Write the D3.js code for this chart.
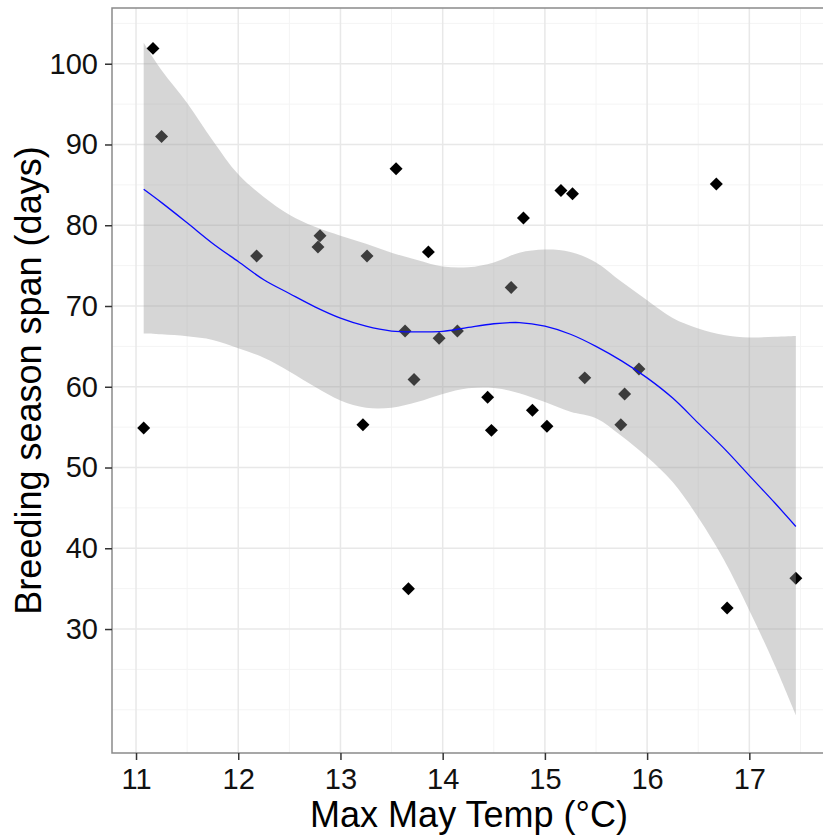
<!DOCTYPE html>
<html>
<head>
<meta charset="utf-8">
<script src="https://cdn.jsdelivr.net/npm/d3@7"></script>
<style>
  html, body { margin: 0; padding: 0; background: #ffffff; }
  svg { display: block; }
  text { font-family: "Liberation Sans", Arial, sans-serif; }
</style>
</head>
<body>
<svg id="chart" width="823" height="835"></svg>
<script>
// Observations: maximum May temperature (°C) vs breeding season span (days)
const maxMayTemp = [11.075, 11.166, 11.25, 12.18, 12.78, 12.80, 13.22, 13.26, 13.544, 13.632,
                    13.665, 13.72, 13.86, 13.965, 14.144, 14.44, 14.477, 14.67, 14.79, 14.878,
                    15.02, 15.157, 15.27, 15.39, 15.743, 15.78, 15.92, 16.677, 16.783, 17.455];
const seasonSpan = [54.9, 101.9, 91.0, 76.2, 77.3, 78.7, 55.3, 76.2, 87.0, 66.9,
                    35.0, 60.9, 76.7, 66.0, 66.9, 58.7, 54.6, 72.3, 80.9, 57.1,
                    55.1, 84.3, 83.9, 61.1, 55.3, 59.1, 62.2, 85.1, 32.6, 36.3];

// Loess fit with its 95% confidence band
const smoothX  = [11.075, 11.25, 11.5, 11.75, 12.0, 12.25, 12.5, 12.75, 13.0, 13.25, 13.5, 13.75, 14.0, 14.25,
                  14.5, 14.75, 15.0, 15.25, 15.5, 15.75, 16.0, 16.25, 16.5, 16.75, 17.0, 17.25, 17.455];
const smoothFit = [84.45, 82.8, 80.3, 77.75, 75.5, 73.25, 71.55, 69.9, 68.5, 67.5, 66.9, 66.8, 66.85, 67.35,
                   67.8, 67.95, 67.5, 66.5, 65.0, 63.2, 61.1, 58.6, 55.5, 52.4, 49.0, 45.6, 42.7];
const smoothHi = [102.6, 99.2, 95.15, 90.5, 86.3, 83.5, 81.3, 79.8, 78.7, 77.7, 76.6, 75.7, 74.9, 74.8,
                  75.4, 76.6, 77.0, 76.7, 75.4, 73.0, 70.7, 68.5, 67.2, 66.4, 66.1, 66.2, 66.3];
const smoothLo = [66.6, 66.5, 66.25, 65.8, 64.76, 63.6, 61.9, 60.0, 58.3, 57.4, 57.4, 58.1, 59.1, 59.8,
                  59.85, 59.2, 58.1, 56.9, 56.1, 53.9, 51.3, 48.2, 43.8, 38.6, 32.3, 25.5, 19.35];

// Axis breaks
const xTicks = [11, 12, 13, 14, 15, 16, 17];
const xMinor = [11.5, 12.5, 13.5, 14.5, 15.5, 16.5, 17.5];
const yTicks = [30, 40, 50, 60, 70, 80, 90, 100];
const yMinor = [20, 25, 35, 45, 55, 65, 75, 85, 95, 105];

const xLabel = "Max May Temp (°C)";
const yLabel = "Breeding season span (days)";

const panel = { left: 112, right: 826, top: 8, bottom: 753 };

const x = d3.scaleLinear().domain([10.765, 17.75]).range([panel.left, panel.right]);
const y = d3.scaleLinear().domain([14.65, 106.9]).range([panel.bottom, panel.top]);

const svg = d3.select("#chart");

svg.append("defs").append("clipPath").attr("id", "panel-clip")
  .append("rect")
  .attr("x", panel.left).attr("y", panel.top)
  .attr("width", panel.right - panel.left).attr("height", panel.bottom - panel.top);

const plot = svg.append("g").attr("clip-path", "url(#panel-clip)");

// Panel background
plot.append("rect")
  .attr("x", panel.left).attr("y", panel.top)
  .attr("width", panel.right - panel.left).attr("height", panel.bottom - panel.top)
  .attr("fill", "#ffffff");

// Minor grid
const grid = plot.append("g");
grid.selectAll("line.xminor").data(xMinor).join("line")
  .attr("x1", d => x(d)).attr("x2", d => x(d))
  .attr("y1", panel.top).attr("y2", panel.bottom)
  .attr("stroke", "#f4f4f4").attr("stroke-width", 1);
grid.selectAll("line.yminor").data(yMinor).join("line")
  .attr("y1", d => y(d)).attr("y2", d => y(d))
  .attr("x1", panel.left).attr("x2", panel.right)
  .attr("stroke", "#f4f4f4").attr("stroke-width", 1);

// Major grid
grid.selectAll("line.xmajor").data(xTicks).join("line")
  .attr("x1", d => x(d)).attr("x2", d => x(d))
  .attr("y1", panel.top).attr("y2", panel.bottom)
  .attr("stroke", "#e8e8e8").attr("stroke-width", 1.5);
grid.selectAll("line.ymajor").data(yTicks).join("line")
  .attr("y1", d => y(d)).attr("y2", d => y(d))
  .attr("x1", panel.left).attr("x2", panel.right)
  .attr("stroke", "#e8e8e8").attr("stroke-width", 1.5);

// Points (filled diamonds)
const pts = maxMayTemp.map((t, i) => ({ t, s: seasonSpan[i] }));
const diamond = d3.symbol().type(d3.symbolSquare).size(84);
plot.append("g").selectAll("path").data(pts).join("path")
  .attr("d", diamond)
  .attr("transform", d => `translate(${x(d.t)},${y(d.s)}) rotate(45)`)
  .attr("fill", "#000000");

// Confidence band and fitted curve
const band = smoothX.map((t, i) => ({ t, fit: smoothFit[i], lo: smoothLo[i], hi: smoothHi[i] }));
const curve = d3.curveCatmullRom.alpha(0.5);
plot.append("path")
  .datum(band)
  .attr("d", d3.area()
    .x(d => x(d.t))
    .y0(d => y(d.lo))
    .y1(d => y(d.hi))
    .curve(curve))
  .attr("fill", "#999999")
  .attr("fill-opacity", 0.4);

plot.append("path")
  .datum(band)
  .attr("d", d3.line()
    .x(d => x(d.t))
    .y(d => y(d.fit))
    .curve(curve))
  .attr("fill", "none")
  .attr("stroke", "#0a0aff")
  .attr("stroke-width", 1.3);

// Panel border
svg.append("rect")
  .attr("x", panel.left).attr("y", panel.top)
  .attr("width", panel.right - panel.left).attr("height", panel.bottom - panel.top)
  .attr("fill", "none")
  .attr("stroke", "#8a8a8a")
  .attr("stroke-width", 1.5);

// Axes
const xAxis = d3.axisBottom(x).tickValues(xTicks).tickSize(7).tickPadding(8).tickFormat(d3.format("d"));
const yAxis = d3.axisLeft(y).tickValues(yTicks).tickSize(7).tickPadding(7).tickFormat(d3.format("d"));

const gx = svg.append("g").attr("transform", `translate(0,${panel.bottom})`).call(xAxis);
const gy = svg.append("g").attr("transform", `translate(${panel.left},0)`).call(yAxis);

[gx, gy].forEach(g => {
  g.select(".domain").remove();
  g.selectAll(".tick line").attr("stroke", "#333333").attr("stroke-width", 1.5);
  g.selectAll(".tick text")
    .attr("fill", "#111111")
    .attr("font-size", 29)
    .attr("font-family", "'Liberation Sans', Arial, sans-serif");
});

// Axis titles
svg.append("text")
  .attr("x", (panel.left + panel.right) / 2)
  .attr("y", 827)
  .attr("text-anchor", "middle")
  .attr("font-size", 36)
  .attr("fill", "#000000")
  .text(xLabel);

svg.append("text")
  .attr("transform", `translate(41,${(panel.top + panel.bottom) / 2}) rotate(-90)`)
  .attr("text-anchor", "middle")
  .attr("font-size", 36)
  .attr("fill", "#000000")
  .text(yLabel);
</script>
</body>
</html>
